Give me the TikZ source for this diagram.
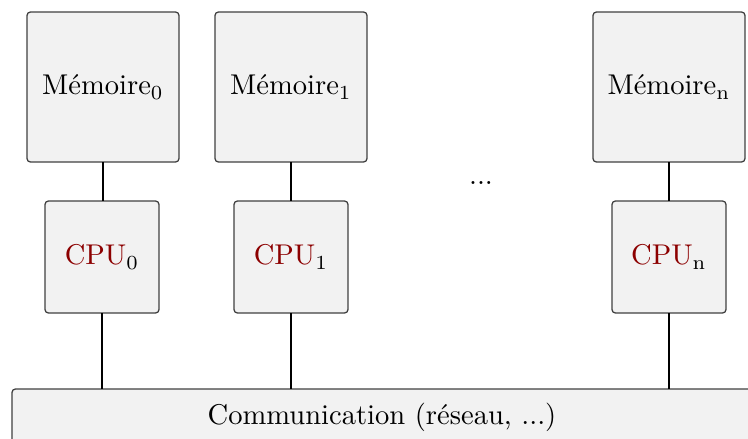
\documentclass[tikz,border=0pt]{standalone}
\begin{document}
\begin{tikzpicture}[x=0.35pt,y=-0.35pt,
  box/.style={draw=black!75,fill=black!5,rounded corners=1.2pt,line width=0.45pt,inner sep=0pt,outer sep=0pt},
  membox/.style={box,minimum width=53.2pt,minimum height=52.5pt},
  cpubox/.style={box,minimum width=39.9pt,minimum height=39.2pt},
  link/.style={draw=black,line width=0.4pt},
  cpu/.style={text=red!55!black}]
\useasboundingbox (0,0) rectangle (748,439);
\clip (0,0) rectangle (748,439);
\node[membox] (m0) at (103,87) {M\'emoire$_0$};
\node[membox] (m1) at (291,87) {M\'emoire$_1$};
\node[membox] (mn) at (669,87) {M\'emoire$_\mathrm{n}$};
\node[cpubox] (c0) at (102,257) {\textcolor{red!55!black}{CPU}$_0$};
\node[cpubox] (c1) at (291,257) {\textcolor{red!55!black}{CPU}$_1$};
\node[cpubox] (cn) at (669,257) {\textcolor{red!55!black}{CPU}$_\mathrm{n}$};
\node (dots) at (481,183) {...};
\node[box,minimum width=275.8pt,minimum height=24.85pt,anchor=north west] (comm) at (12,389) {};
\node (commtext) at (382,417) {Communication (r\'eseau, ...)};
\coordinate (b0) at (102,389);
\coordinate (b1) at (291,389);
\coordinate (bn) at (669,389);
\draw[link] (m0.south) -- (m0.south |- c0.north);
\draw[link] (m1.south) -- (c1.north);
\draw[link] (mn.south) -- (cn.north);
\draw[link] (c0.south) -- (b0);
\draw[link] (c1.south) -- (b1);
\draw[link] (cn.south) -- (bn);
\end{tikzpicture}
\end{document}
